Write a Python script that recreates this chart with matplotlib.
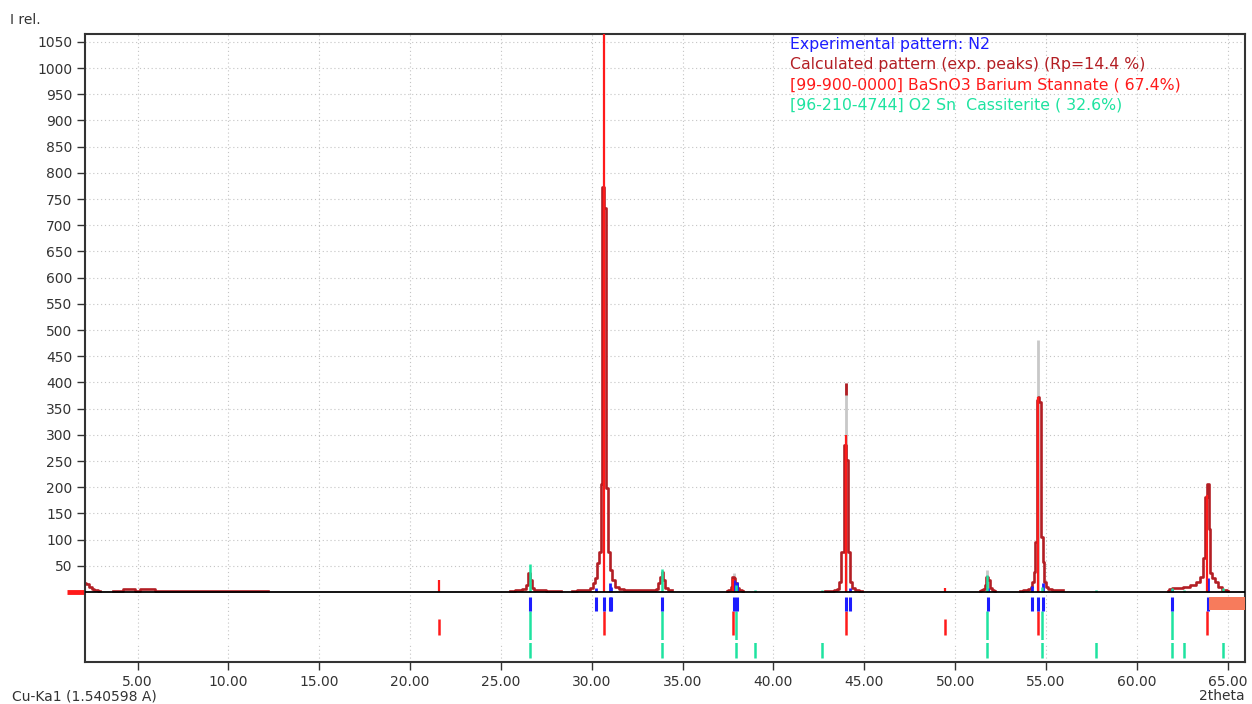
import numpy as np
import matplotlib
matplotlib.use("Agg")
import matplotlib.pyplot as plt

nan = np.nan

# perfil calculado (2theta, I rel.) - trechos separados por nan
calc_x = [2.11, 2.25, 2.4, 2.55, 2.7, 2.93, nan,
          3.67, 4.0, 4.35, 4.55, 4.75, 5.0, 5.3, 5.6, 5.9, 6.05, 6.5, 8.0, 10.0, 12.2, nan,
          25.5, 26.0, 26.3, 26.44, 26.55, 26.68, 26.78, 26.9, 27.2, 27.8, 28.3, nan,
          28.9, 29.5, 29.85, 29.99, 30.14, 30.27, 30.36, 30.45, 30.53, 30.62, 30.75, 30.84,
          30.93, 31.04, 31.18, 31.37, 31.6, 32.0, 33.0, 33.45, 33.6, 33.71, 33.8, 33.89,
          33.98, 34.12, 34.25, 34.4, nan,
          37.43, 37.55, 37.62, 37.7, 37.76, 37.84, 37.94, 38.06, 38.2, 38.34, nan,
          42.84, 43.2, 43.45, 43.58, 43.68, 43.8, 43.91, 44.04, 44.14, 44.27, 44.4, 44.6, 44.86, nan,
          51.37, 51.5, 51.58, 51.66, 51.74, 51.86, 51.97, 52.08, 52.19, nan,
          53.57, 53.9, 54.1, 54.2, 54.28, 54.36, 54.44, 54.52, 54.6, 54.68, 54.77, 54.86,
          54.95, 55.05, 55.2, 55.45, 55.7, 55.92, nan,
          61.73, 61.85, 62.0, 62.37, 62.74, 63.1, 63.38, 63.56, 63.68, 63.79, 63.9, 63.99,
          64.08, 64.2, 64.35, 64.57, 64.85, 65.04]
calc_y = [18, 15, 10, 6, 3, 1, nan,
          2.5, 2.5, 5, 5, 5, 2.5, 6, 6, 6, 2.5, 2.5, 2.5, 2.5, 2.5, nan,
          2, 3, 5, 13, 36, 23, 7, 4, 3, 2, 2, nan,
          2, 3, 4, 7, 17, 26, 55, 77, 207, 773, 732, 198,
          77, 42, 23, 10, 5, 3, 3, 3, 6, 17, 28, 39,
          23, 7, 4, 3, nan,
          2, 3, 4, 10, 29, 26, 17, 8, 3, 2, nan,
          2, 2, 4, 6, 20, 77, 280, 252, 77, 20, 8, 4, 2, nan,
          2, 3, 5, 13, 28, 23, 8, 3, 2, nan,
          2, 3, 5, 10, 20, 39, 96, 366, 373, 363, 105, 58,
          20, 10, 6, 4, 3, 3, nan,
          2, 5, 7, 7, 10, 13, 20, 29, 64, 182, 207, 120,
          36, 26, 20, 10, 4, 2]

# picos experimentais (N2)
exp_pos = [26.62, 30.25, 30.69, 30.98, 31.06, 33.88, 37.84, 38.01, 43.98, 44.23,
           51.82, 54.23, 54.58, 54.85, 61.92, 63.93]
exp_vis = [0, 8, 0, 18, 10, 0, 23, 20, 0, 8, 8, 12, 0, 18, 5, 27]
# intensidades experimentais (barras cinza) e topo escuro
grey_pos = [37.84, 43.98, 51.75, 54.55]
grey_int = [36, 399, 42, 481]
topo_pos = [43.98]
topo_int = [376, 399]

# BaSnO3 (99-900-0000)
bas_pos = [21.59, 30.69, 37.79, 43.98, 49.43, 54.58, 63.86]
bas_int = [23, 1100, 25, 300, 8, 373, 185]
bas_frac = [0.65, 1, 1, 1, 0.65, 1, 1]

# Cassiterita (96-210-4744)
cas_pos = [26.62, 33.88, 37.94, 39.0, 42.65, 51.73, 54.80, 57.76, 61.92, 62.61, 64.74]
cas_int = [53, 43, 13, 3, 3, 32, 9, 3, 7, 3, 7]
cas_frac = [1, 1, 1, 0.33, 0.33, 1, 1, 0.33, 1, 0.33, 0.33]

legenda = ["Experimental pattern: N2",
           "Calculated pattern (exp. peaks) (Rp=14.4 %)",
           "[99-900-0000] BaSnO3 Barium Stannate ( 67.4%)",
           "[96-210-4744] O2 Sn  Cassiterite ( 32.6%)"]

AZUL = "#1c1cff"
VERM_ESC = "#b31e24"
VERM = "#ff1a1a"
VERDE = "#1ee3a0"
TXT = "#333333"

plt.rcParams['font.family'] = ['DejaVu Sans']
fig = plt.figure(figsize=(12.52, 7.04), dpi=100)
ax = fig.add_axes([85 / 1252, 42 / 704, 1160 / 1252, 628 / 704])

XMIN, XMAX = 2.11, 65.95
YMIN, YMAX = -133.6, 1065
ax.set_xlim(XMIN, XMAX)
ax.set_ylim(YMIN, YMAX)

# parte superior: padrões
ax.vlines(grey_pos, 0, grey_int, color="#c8c8c8", lw=2, zorder=1.5)
ax.vlines(topo_pos, topo_int[0], topo_int[1], color=VERM_ESC, lw=2, zorder=1.6)

# cada trecho do perfil em separado (steps-mid perde o último meio passo antes de um nan)
cx = np.array(calc_x)
cy = np.array(calc_y)
quebras = np.where(np.isnan(cx))[0]
for seg_x, seg_y in zip(np.split(cx, quebras), np.split(cy, quebras)):
    ok = ~np.isnan(seg_x)
    ax.plot(seg_x[ok], seg_y[ok], drawstyle="steps-mid", color=VERM_ESC, lw=1.9, zorder=2)

ax.vlines(exp_pos, 0, exp_vis, color=AZUL, lw=2, zorder=2.2)
ax.vlines(cas_pos, 0, cas_int, color=VERDE, lw=1.8, zorder=2.4)
ax.vlines(bas_pos, 0, bas_int, color=VERM, lw=1.6, zorder=2.6)
ax.axhline(0, color="black", lw=1.3, zorder=3)

# parte inferior: marcadores das fases
ax.vlines(cas_pos, -126, [-126 + 90 * f for f in cas_frac], color=VERDE, lw=1.8, zorder=2)
ax.axhspan(-97, -92, color="white", lw=0, zorder=2.1)
ax.vlines(bas_pos, -82, [-82 + 46 * f for f in bas_frac], color=VERM, lw=1.8, zorder=2.3)
ax.vlines(exp_pos, -36, -9.5, color=AZUL, lw=2.2, zorder=2.5)
ax.fill_between([63.97, XMAX], -34, -9.5, color="#f77b5c", lw=0, zorder=2.6)
# pedaço vermelho fora do eixo (à esquerda)
ax.plot([1.1, XMIN], [0, 0], color=VERM, lw=3.5, clip_on=False, solid_capstyle="butt")

ax.set_xticks(np.arange(5, 66, 5))
ax.set_xticklabels([f"{v:.2f}" for v in np.arange(5, 66, 5)])
ax.set_yticks(np.arange(50, 1051, 50))
ax.tick_params(axis="both", direction="out", length=6, width=1, colors=TXT,
               labelsize=10, labelcolor=TXT, pad=3)
ax.grid(True, linestyle=(0, (1, 2.5)), color="#c4c4c4", lw=0.8)
ax.set_axisbelow(True)
for s in ax.spines.values():
    s.set_color(TXT)
    s.set_linewidth(1.5)

fig.text(10 / 1252, 1 - 20 / 704, "I rel.", fontsize=10, color=TXT, va="center")
fig.text(12 / 1252, 1 - 696 / 704, "Cu-Ka1 (1.540598 A)", fontsize=10, color=TXT, va="center")
fig.text(1245 / 1252, 1 - 696 / 704, "2theta", fontsize=10, color=TXT, va="center", ha="right")

for i, (txt, cor) in enumerate(zip(legenda, [AZUL, VERM_ESC, VERM, VERDE])):
    fig.text(790 / 1252, 1 - (45 + 20 * i) / 704, txt, fontsize=11.3, color=cor, va="center")

fig.savefig("out.png", dpi=100)
